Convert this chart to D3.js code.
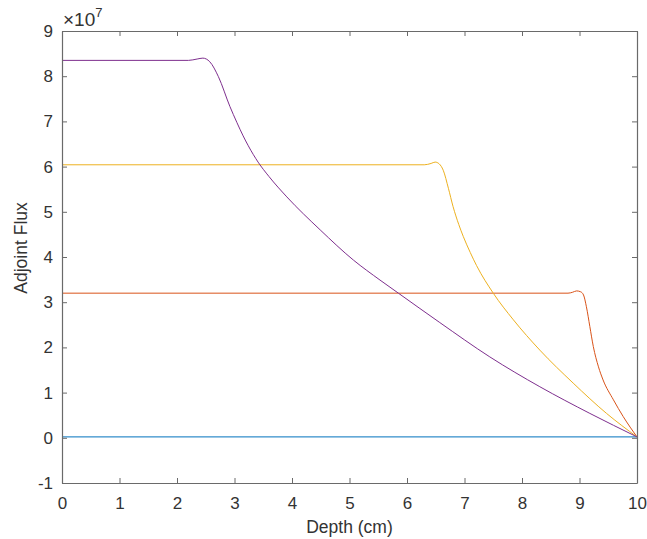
<!DOCTYPE html>
<html>
<head>
<meta charset="utf-8">
<script src="https://cdn.jsdelivr.net/npm/d3@7"></script>
<style>
  body { margin: 0; background: #fff; }
  text { font-family: "Liberation Sans", Arial, sans-serif; fill: #333; }
</style>
</head>
<body>
<svg id="chart" width="647" height="539"></svg>
<script>
// values in units of 1e7
var xTicks = [0, 1, 2, 3, 4, 5, 6, 7, 8, 9, 10]
var yTicks = [-1, 0, 1, 2, 3, 4, 5, 6, 7, 8, 9]

var blueX = [0, 10]
var blueY = [0.02, 0.02]

var redX = [0, 8.8, 8.88, 8.95, 9.02, 9.07, 9.12, 9.18, 9.24, 9.33, 9.41, 9.59, 9.76, 10]
var redY = [3.2, 3.2, 3.22, 3.25, 3.23, 3.16, 2.9, 2.46, 2.02, 1.57, 1.28, 0.84, 0.47, 0.02]

var yellowX = [0, 6.3, 6.42, 6.49, 6.56, 6.63, 6.72, 6.8, 6.9, 6.98, 7.1, 7.21, 7.5, 7.85, 8.31, 8.89, 9.47, 10]
var yellowY = [6.04, 6.04, 6.07, 6.1, 6.06, 5.92, 5.52, 5.12, 4.72, 4.45, 4.1, 3.81, 3.2, 2.61, 1.94, 1.21, 0.54, 0.02]

var purpleX = [0, 2.2, 2.35, 2.45, 2.57, 2.72, 2.92, 3.04, 3.15, 3.24, 3.41, 3.6, 3.91, 4.49, 5.07, 5.53, 5.85, 6.57, 7.44, 8.31, 9.18, 10]
var purpleY = [8.35, 8.35, 8.38, 8.4, 8.32, 7.99, 7.33, 6.98, 6.68, 6.46, 6.1, 5.78, 5.33, 4.6, 3.93, 3.49, 3.2, 2.55, 1.79, 1.13, 0.54, 0.02]

var series = [
  {x: blueX, y: blueY, color: "#0072BD"},
  {x: redX, y: redY, color: "#D95319"},
  {x: yellowX, y: yellowY, color: "#EDB120"},
  {x: purpleX, y: purpleY, color: "#7E2F8E"}
]

var margin = {left: 62, top: 31, right: 10, bottom: 56}
var W = 647, H = 539
var svg = d3.select("#chart")

var x = d3.scaleLinear().domain([0, 10]).range([margin.left, W - margin.right])
var y = d3.scaleLinear().domain([-1, 9]).range([H - margin.bottom, margin.top])

var line = d3.line()
    .x(function(d) { return x(d[0]) })
    .y(function(d) { return y(d[1]) })
    .curve(d3.curveMonotoneX)

series.forEach(function(s) {
  var pts = s.x.map(function(v, i) { return [v, s.y[i]] })
  svg.append("path")
      .datum(pts)
      .attr("d", line)
      .attr("fill", "none")
      .attr("stroke", s.color)
      .attr("stroke-width", 1)
})

var axisColor = "#6a6a6a"
var tickLen = 5
var fmt = function(d) { return String(d) }

// box with ticks on all four sides
var xb = svg.append("g")
    .attr("transform", "translate(0," + y(-1) + ")")
    .call(d3.axisBottom(x).tickValues(xTicks).tickSizeInner(-tickLen).tickSizeOuter(0).tickPadding(14).tickFormat(fmt))
var xt = svg.append("g")
    .attr("transform", "translate(0," + y(9) + ")")
    .call(d3.axisTop(x).tickValues(xTicks).tickSizeInner(-tickLen).tickSizeOuter(0).tickFormat(""))
var yl = svg.append("g")
    .attr("transform", "translate(" + x(0) + ",0)")
    .call(d3.axisLeft(y).tickValues(yTicks).tickSizeInner(-tickLen).tickSizeOuter(0).tickPadding(9).tickFormat(fmt))
var yr = svg.append("g")
    .attr("transform", "translate(" + x(10) + ",0)")
    .call(d3.axisRight(y).tickValues(yTicks).tickSizeInner(-tickLen).tickSizeOuter(0).tickFormat(""))

;[xb, xt, yl, yr].forEach(function(g) {
  g.selectAll("path").attr("stroke", axisColor).attr("stroke-width", 1.2)
  g.selectAll("line").attr("stroke", axisColor).attr("stroke-width", 1)
  g.selectAll("text")
      .style("font-family", "'Liberation Sans', Arial, sans-serif")
      .style("font-size", "17px")
      .attr("fill", "#333")
})

// axis labels
svg.append("text")
    .attr("x", x(5))
    .attr("y", 533)
    .attr("text-anchor", "middle")
    .style("font-size", "17.5px")
    .text("Depth (cm)")

svg.append("text")
    .attr("transform", "translate(27," + y(4.2) + ") rotate(-90)")
    .attr("text-anchor", "middle")
    .style("font-size", "17.5px")
    .text("Adjoint Flux")

// exponent label
var ex = svg.append("text")
    .attr("x", 63)
    .attr("y", 26)
    .style("font-size", "19px")
ex.append("tspan").text("\u00d710")
ex.append("tspan").attr("dy", -9).style("font-size", "13px").text("7")
</script>
</body>
</html>
